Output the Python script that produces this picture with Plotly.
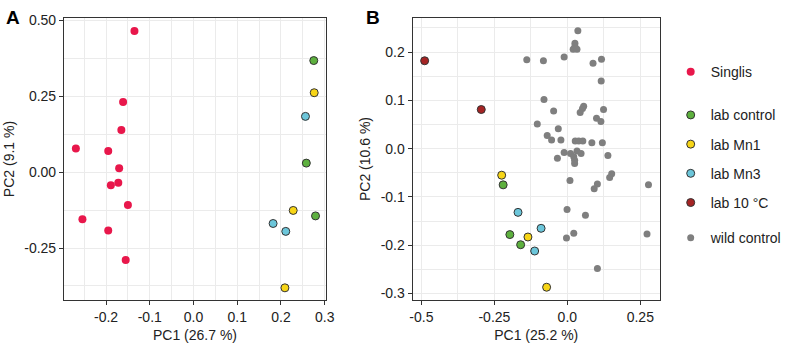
import plotly.graph_objects as go

# ---------------- data ----------------
# Panel A
singlis_x = [-0.135, -0.161, -0.165, -0.269, -0.195, -0.170, -0.189, -0.172, -0.150, -0.254, -0.195, -0.155]
singlis_y = [0.465, 0.231, 0.139, 0.078, 0.070, 0.013, -0.043, -0.035, -0.108, -0.155, -0.192, -0.289]
a_ctrl_x = [0.275, 0.258, 0.279]
a_ctrl_y = [0.368, 0.030, -0.144]
a_mn1_x = [0.276, 0.228, 0.209]
a_mn1_y = [0.262, -0.126, -0.381]
a_mn3_x = [0.256, 0.182, 0.211]
a_mn3_y = [0.184, -0.169, -0.195]

# Panel B
b_10c_x = [-0.489, -0.295]
b_10c_y = [0.182, 0.081]
b_mn1_x = [-0.225, -0.135, -0.071]
b_mn1_y = [-0.055, -0.183, -0.287]
b_ctrl_x = [-0.220, -0.197, -0.160]
b_ctrl_y = [-0.075, -0.178, -0.199]
b_mn3_x = [-0.169, -0.090, -0.112]
b_mn3_y = [-0.132, -0.165, -0.212]
wild_x = [0.036, 0.026, 0.026, 0.020, 0.033, -0.139, -0.082, -0.011, 0.088, 0.117,
          0.116, -0.080, -0.047, 0.056, 0.052, 0.044, 0.124, 0.100, 0.115, -0.103,
          -0.031, -0.069, -0.054, -0.022, 0.027, 0.039, 0.053, 0.084, 0.120, -0.011,
          0.011, 0.033, 0.047, 0.022, 0.025, 0.025, -0.034, 0.139, 0.152, 0.145,
          0.009, 0.103, 0.092, 0.278, -0.001, 0.062, -0.003, 0.022, 0.273, 0.103]
wild_y = [0.244, 0.218, 0.212, 0.206, 0.206, 0.184, 0.182, 0.190, 0.177, 0.185,
          0.140, 0.102, 0.078, 0.088, 0.083, 0.075, 0.081, 0.063, 0.056, 0.051,
          0.041, 0.027, 0.018, 0.018, 0.016, 0.016, 0.016, 0.012, 0.012, -0.008,
          -0.010, -0.005, -0.010, -0.017, -0.024, -0.031, -0.020, -0.014, -0.052, -0.060,
          -0.066, -0.073, -0.083, -0.075, -0.126, -0.138, -0.185, -0.175, -0.177, -0.248]

# ticks
a_xticks = [-0.2, -0.1, 0.0, 0.1, 0.2, 0.3]
a_xtext = ["-0.2", "-0.1", "0.0", "0.1", "0.2", "0.3"]
a_yticks = [0.5, 0.25, 0.0, -0.25]
a_ytext = ["0.50", "0.25", "0.00", "-0.25"]
b_xticks = [-0.5, -0.25, 0.0, 0.25]
b_xtext = ["-0.5", "-0.25", "0.0", "0.25"]
b_yticks = [0.2, 0.1, 0.0, -0.1, -0.2, -0.3]
b_ytext = ["0.2", "0.1", "0.0", "-0.1", "-0.2", "-0.3"]
a_xminor = [-0.25, -0.15, -0.05, 0.05, 0.15, 0.25]
a_yminor = [0.375, 0.125, -0.125, -0.375]
b_xminor = [-0.375, -0.125, 0.125]
b_yminor = [0.25, 0.15, 0.05, -0.05, -0.15, -0.25]

# ---------------- styles ----------------
FONT = "Liberation Sans, Arial, sans-serif"
C_RED = "#E8174B"
C_GREEN = "#5DB03E"
C_YEL = "#F7D516"
C_BLUE = "#6CC6DA"
C_DRED = "#A52424"
C_GRAY = "#7F7F7F"
OUT = dict(color="#333333", width=1)
MS = 8

fig = go.Figure()

def add(x, y, name, color, xa, ya, show, legend, outline=True, size=MS):
    fig.add_trace(go.Scatter(
        x=x, y=y, mode="markers", name=name, xaxis=xa, yaxis=ya,
        showlegend=show, legend=legend, legendgroup=name,
        marker=dict(color=color, size=size,
                    line=OUT if outline else dict(width=0)),
        hoverinfo="x+y+name"))

# Panel A
add(singlis_x, singlis_y, "Singlis", C_RED, "x", "y", True, "legend", outline=False)
add(a_ctrl_x, a_ctrl_y, "lab control", C_GREEN, "x", "y", False, "legend2")
add(a_mn1_x, a_mn1_y, "lab Mn1", C_YEL, "x", "y", False, "legend2")
add(a_mn3_x, a_mn3_y, "lab Mn3", C_BLUE, "x", "y", False, "legend2")
# Panel B
add(wild_x, wild_y, "wild control", C_GRAY, "x2", "y2", True, "legend3", outline=False, size=7)
add(b_ctrl_x, b_ctrl_y, "lab control", C_GREEN, "x2", "y2", True, "legend2")
add(b_mn1_x, b_mn1_y, "lab Mn1", C_YEL, "x2", "y2", True, "legend2")
add(b_mn3_x, b_mn3_y, "lab Mn3", C_BLUE, "x2", "y2", True, "legend2")
add(b_10c_x, b_10c_y, "lab 10 °C", C_DRED, "x2", "y2", True, "legend2")

GRID = "#EBEBEB"
def axis(domain, rng, tv, tt, minor, title, anchor):
    return dict(
        domain=domain, range=rng, tickmode="array", tickvals=tv, ticktext=tt,
        showline=True, mirror=True, linecolor="#333333", linewidth=1.2,
        ticks="outside", ticklen=4, tickcolor="#333333", tickwidth=1,
        showgrid=True, gridcolor=GRID, gridwidth=1, zeroline=False,
        minor=dict(tickmode="array", tickvals=minor, showgrid=True,
                   gridcolor=GRID, gridwidth=0.6, ticks=""),
        title=dict(text=title, font=dict(size=14, color="#222222"), standoff=6),
        tickfont=dict(size=14, color="#222222"), anchor=anchor)

W, H = 789, 344
ydom = [1 - 300.5 / H, 1 - 13 / H]
fig.update_layout(
    width=W, height=H, margin=dict(l=0, r=0, t=0, b=0),
    paper_bgcolor="white", plot_bgcolor="white",
    font=dict(family=FONT, size=14, color="#222222"),
    xaxis=axis([62 / W, 328 / W], [-0.296, 0.303], a_xticks, a_xtext, a_xminor, "PC1 (26.7 %)", "y"),
    yaxis=axis(ydom, [-0.422, 0.509], a_yticks, a_ytext, a_yminor, "PC2 (9.1 %)", "x"),
    xaxis2=axis([416 / W, 667 / W], [-0.530, 0.317], b_xticks, b_xtext, b_xminor, "PC1 (25.2 %)", "y2"),
    yaxis2=axis(ydom, [-0.314, 0.271], b_yticks, b_ytext, b_yminor, "PC2 (10.6 %)", "x2"),
    legend=dict(x=678 / W, y=1 - 52 / H, xanchor="left", yanchor="top",
                font=dict(size=14), bgcolor="rgba(0,0,0,0)", itemclick=False),
    legend2=dict(x=678 / W, y=1 - 96 / H, xanchor="left", yanchor="top",
                 font=dict(size=14), bgcolor="rgba(0,0,0,0)", tracegroupgap=8,
                 traceorder="grouped", itemclick=False),
    legend3=dict(x=678 / W, y=1 - 221 / H, xanchor="left", yanchor="top",
                 font=dict(size=14), bgcolor="rgba(0,0,0,0)", itemclick=False),
    annotations=[
        dict(text="<b>A</b>", x=1 / W, y=1.0, xref="paper", yref="paper",
             xanchor="left", yanchor="top", showarrow=False, font=dict(size=19, color="black")),
        dict(text="<b>B</b>", x=367 / W, y=1.0, xref="paper", yref="paper",
             xanchor="left", yanchor="top", showarrow=False, font=dict(size=19, color="black")),
    ],
)

fig.write_html("out.html", config={"displayModeBar": False},
               post_script="document.body.style.margin='0px';document.body.style.padding='0px';")
